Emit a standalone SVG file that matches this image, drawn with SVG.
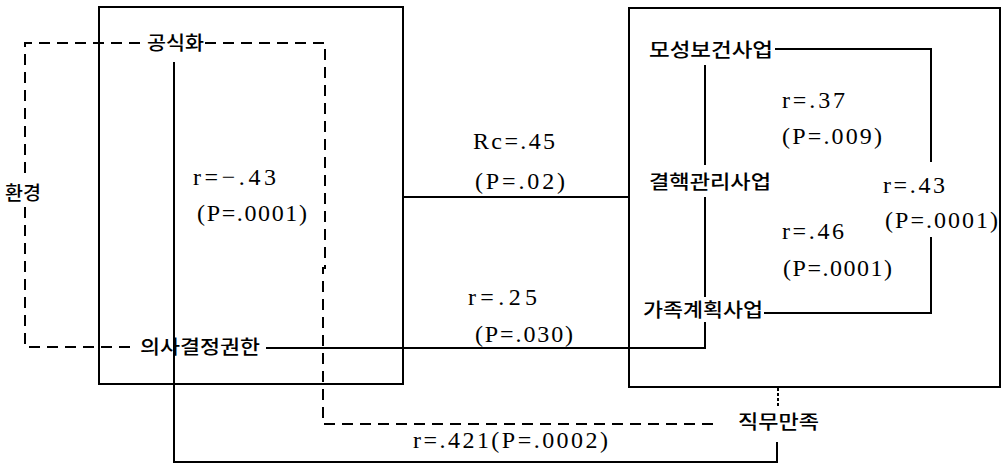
<svg xmlns="http://www.w3.org/2000/svg" width="1002" height="464" viewBox="0 0 1002 464">
<style>
.box{fill:none;stroke:#000;stroke-width:2}
.ln{fill:none;stroke:#000;stroke-width:2}
.dash{fill:none;stroke:#000;stroke-width:2;stroke-dasharray:11 7}
.dot{fill:none;stroke:#000;stroke-width:2;stroke-dasharray:3 2}
.ko{font-family:"Noto Sans CJK KR","Noto Sans",sans-serif;font-size:19px;font-weight:500;fill:#000}
.num{font-family:"Liberation Serif","DejaVu Serif",serif;font-size:24px;fill:#000}
</style>
<rect width="1002" height="464" fill="#fff"/>
<g id="box-left"><rect class="box" x="99" y="7" width="304" height="377"/></g>
<g id="box-right"><rect class="box" x="629" y="8" width="371" height="379"/></g>
<g id="connectors">
<path class="ln" d="M174 62 V462 H777 V442"/>
<path class="ln" d="M404 197 H629"/>
<path class="ln" d="M266 348 H705 V322"/>
<path class="ln" d="M705 297 V197"/>
<path class="ln" d="M705 65 V165"/>
<path class="ln" d="M775 49 H931 V162"/>
<path class="ln" d="M931 237 V313 H764"/>
<path class="dot" d="M778 388 V406"/>
<path class="dash" d="M140 43 H25 V180"/>
<path class="dash" d="M25 207 V347 H135"/>
<path class="dash" d="M205 43 H325 V268 H323 V424 H717"/>
</g>
<g id="n-env"><text class="ko" x="5" y="200" textLength="36" lengthAdjust="spacingAndGlyphs">환경</text></g>
<g id="n-formal"><text class="ko" x="147" y="50" textLength="57" lengthAdjust="spacingAndGlyphs">공식화</text></g>
<g id="n-decision"><text class="ko" x="140" y="354" textLength="120" lengthAdjust="spacingAndGlyphs">의사결정권한</text></g>
<g id="n-maternal"><text class="ko" x="649" y="57" textLength="124" lengthAdjust="spacingAndGlyphs">모성보건사업</text></g>
<g id="n-tb"><text class="ko" x="649" y="189" textLength="122" lengthAdjust="spacingAndGlyphs">결핵관리사업</text></g>
<g id="n-family"><text class="ko" x="643" y="317" textLength="120" lengthAdjust="spacingAndGlyphs">가족계획사업</text></g>
<g id="n-job"><text class="ko" x="738" y="429" textLength="81" lengthAdjust="spacingAndGlyphs">직무만족</text></g>
<g id="labels">
<text class="num" x="193" y="185" textLength="83" lengthAdjust="spacing">r=−.43</text>
<text class="num" x="197" y="221" textLength="110" lengthAdjust="spacing">(P=.0001)</text>
<text class="num" x="473" y="149" textLength="82" lengthAdjust="spacing">Rc=.45</text>
<text class="num" x="475" y="189" textLength="90" lengthAdjust="spacing">(P=.02)</text>
<text class="num" x="782" y="108" textLength="63" lengthAdjust="spacing">r=.37</text>
<text class="num" x="782" y="144" textLength="100" lengthAdjust="spacing">(P=.009)</text>
<text class="num" x="883" y="193" textLength="62" lengthAdjust="spacing">r=.43</text>
<text class="num" x="885" y="228" textLength="113" lengthAdjust="spacing">(P=.0001)</text>
<text class="num" x="782" y="239" textLength="62" lengthAdjust="spacing">r=.46</text>
<text class="num" x="783" y="276" textLength="109" lengthAdjust="spacing">(P=.0001)</text>
<text class="num" x="468" y="305" textLength="69" lengthAdjust="spacing">r=.25</text>
<text class="num" x="475" y="342" textLength="98" lengthAdjust="spacing">(P=.030)</text>
<text class="num" x="413" y="448" textLength="195" lengthAdjust="spacing">r=.421(P=.0002)</text>
</g>
</svg>
